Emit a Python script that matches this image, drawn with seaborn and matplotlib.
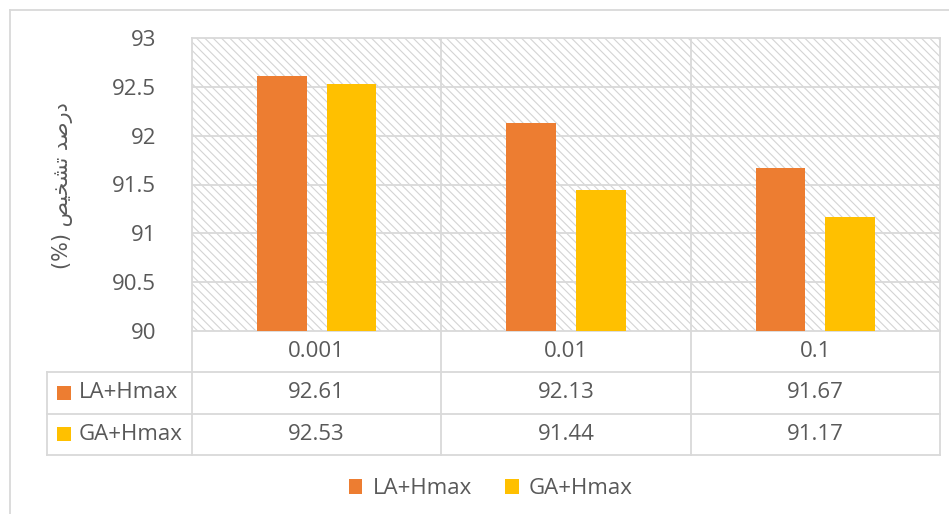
import matplotlib
matplotlib.use("Agg")
import matplotlib.pyplot as plt
from matplotlib.patches import Rectangle
from matplotlib.lines import Line2D
import seaborn as sns
import pandas as pd

# ---------------- data ----------------
categories = ["0.001", "0.01", "0.1"]
series_names = ["LA+Hmax", "GA+Hmax"]
la_values = [92.61, 92.13, 91.67]
ga_values = [92.53, 91.44, 91.17]
colors = ["#ED7D31", "#FFC000"]
y_ticks = [90, 90.5, 91, 91.5, 92, 92.5, 93]
y_label = "درصد تشخیص (%)"

# ---------------- simple Arabic-script shaping for the label ----------------
FORMS = {  # isolated, final, initial, medial
    "د": ("\ufea9", "\ufeaa", None, None),
    "ر": ("\ufead", "\ufeae", None, None),
    "ص": ("\ufeb9", "\ufeba", "\ufebb", "\ufebc"),
    "ت": ("\ufe95", "\ufe96", "\ufe97", "\ufe98"),
    "ش": ("\ufeb5", "\ufeb6", "\ufeb7", "\ufeb8"),
    "خ": ("\ufea5", "\ufea6", "\ufea7", "\ufea8"),
    "ی": ("\ufbfc", "\ufbfd", "\ufef3", "\ufef4"),
}
MIRROR = {"(": ")", ")": "("}


def shape_rtl(s):
    out = []
    for i, ch in enumerate(s):
        if ch not in FORMS:
            out.append(ch)
            continue
        prev = s[i - 1] if i > 0 else ""
        nxt = s[i + 1] if i + 1 < len(s) else ""
        join_prev = prev in FORMS and FORMS[prev][2] is not None
        join_next = FORMS[ch][2] is not None and nxt in FORMS
        iso, fin, ini, med = FORMS[ch]
        if join_prev and join_next:
            out.append(med)
        elif join_prev:
            out.append(fin)
        elif join_next:
            out.append(ini)
        else:
            out.append(iso)
    return "".join(MIRROR.get(c, c) for c in reversed(out))


df = pd.DataFrame({
    "category": categories * 2,
    "series": [series_names[0]] * 3 + [series_names[1]] * 3,
    "value": la_values + ga_values,
})

W, H = 949, 514
plt.rcParams["font.family"] = ["Open Sans", "DejaVu Sans"]
plt.rcParams["hatch.linewidth"] = 0.8
TXT = "#595959"
GRID = "#d9d9d9"

fig = plt.figure(figsize=(W / 100, H / 100), dpi=100)
fig.patch.set_facecolor("white")

# plot area
px_l, px_r, px_t, px_b = 192, 940, 38, 331
ax = fig.add_axes([px_l / W, 1 - px_b / H, (px_r - px_l) / W, (px_b - px_t) / H])

sns.barplot(data=df, x="category", y="value", hue="series", order=categories,
            hue_order=series_names, palette=colors, width=0.56, gap=0.29,
            saturation=1, ax=ax, zorder=3, legend=True)

ax.set_xlim(-0.5, len(categories) - 0.5)
ax.set_ylim(y_ticks[0], y_ticks[-1])
ax.set_yticks(y_ticks)
ax.set_yticklabels([f"{t:g}" for t in y_ticks])
ax.tick_params(axis="y", length=0, pad=26, labelsize=16, labelcolor=TXT)
ax.set_xticks([])
ax.set_xlabel("")
ax.set_ylabel("")

# hatched background
bg = Rectangle((0, 0), 1, 1, transform=ax.transAxes, facecolor="white",
               edgecolor="#d4d4d4", hatch="\\\\\\\\", lw=0, zorder=0)
ax.add_patch(bg)
ax.set_facecolor("white")

for t in y_ticks[1:-1]:
    ax.axhline(t, color=GRID, lw=1.3, zorder=1)
for b in range(len(categories) - 1):
    ax.axvline(b + 0.5, color=GRID, lw=1.3, zorder=1)
for s in ax.spines.values():
    s.set_color(GRID)
    s.set_linewidth(1.3)

# legend at bottom
sns.move_legend(ax, loc="center", bbox_to_anchor=(0.517, 1 - 489 / H),
                bbox_transform=fig.transFigure, ncol=2, frameon=False,
                title=None, fontsize=16, handlelength=0.62, handleheight=0.62,
                handletextpad=0.45, columnspacing=1.5)
for t in ax.get_legend().get_texts():
    t.set_color(TXT)

# ---------------- data table ----------------
tb_l, tb_t, tb_b = 47, 331, 455
unit = (px_r - px_l) / len(categories)
x_left = -0.5 - (px_l - tb_l) / unit
tax = fig.add_axes([tb_l / W, 1 - tb_b / H, (px_r - tb_l) / W, (tb_b - tb_t) / H])
tax.set_xlim(x_left, len(categories) - 0.5)
tax.set_ylim(3, 0)
tax.axis("off")

lkw = dict(color=GRID, lw=1.3, clip_on=False)
for r in (1, 2, 3):
    tax.plot([x_left, len(categories) - 0.5], [r, r], **lkw)
tax.plot([x_left, x_left], [1, 3], **lkw)
for b in range(len(categories) + 1):
    tax.plot([b - 0.5, b - 0.5], [0, 3], **lkw)

for i, c in enumerate(categories):
    tax.text(i, 0.5, c, ha="center", va="center", fontsize=16, color=TXT)
    tax.text(i, 1.5, f"{la_values[i]:.2f}", ha="center", va="center", fontsize=16, color=TXT)
    tax.text(i, 2.5, f"{ga_values[i]:.2f}", ha="center", va="center", fontsize=16, color=TXT)

sq_w = 14 / unit
sq_h = 14 / ((tb_b - tb_t) / 3)
for r, (name, col) in enumerate(zip(series_names, colors)):
    tax.add_patch(Rectangle((x_left + 10 / unit, 1.5 + r - sq_h / 2), sq_w, sq_h,
                            facecolor=col, edgecolor="none", clip_on=False))
    tax.text(x_left + 32 / unit, 1.5 + r, name, ha="left", va="center",
             fontsize=16, color=TXT)

# y axis title (rotated, Persian)
fig.text(63 / W, 1 - 186 / H, shape_rtl(y_label), rotation=90, ha="center",
         va="center", fontsize=15, color=TXT, family=["DejaVu Sans"])

# outer chart border
fig.add_artist(Line2D([10 / W, 10 / W], [0, 1 - 10 / H], color=GRID, lw=1.3,
                      transform=fig.transFigure))
fig.add_artist(Line2D([10 / W, 1], [1 - 10 / H, 1 - 10 / H], color=GRID, lw=1.3,
                      transform=fig.transFigure))

fig.savefig("out.png", dpi=100, facecolor="white")
